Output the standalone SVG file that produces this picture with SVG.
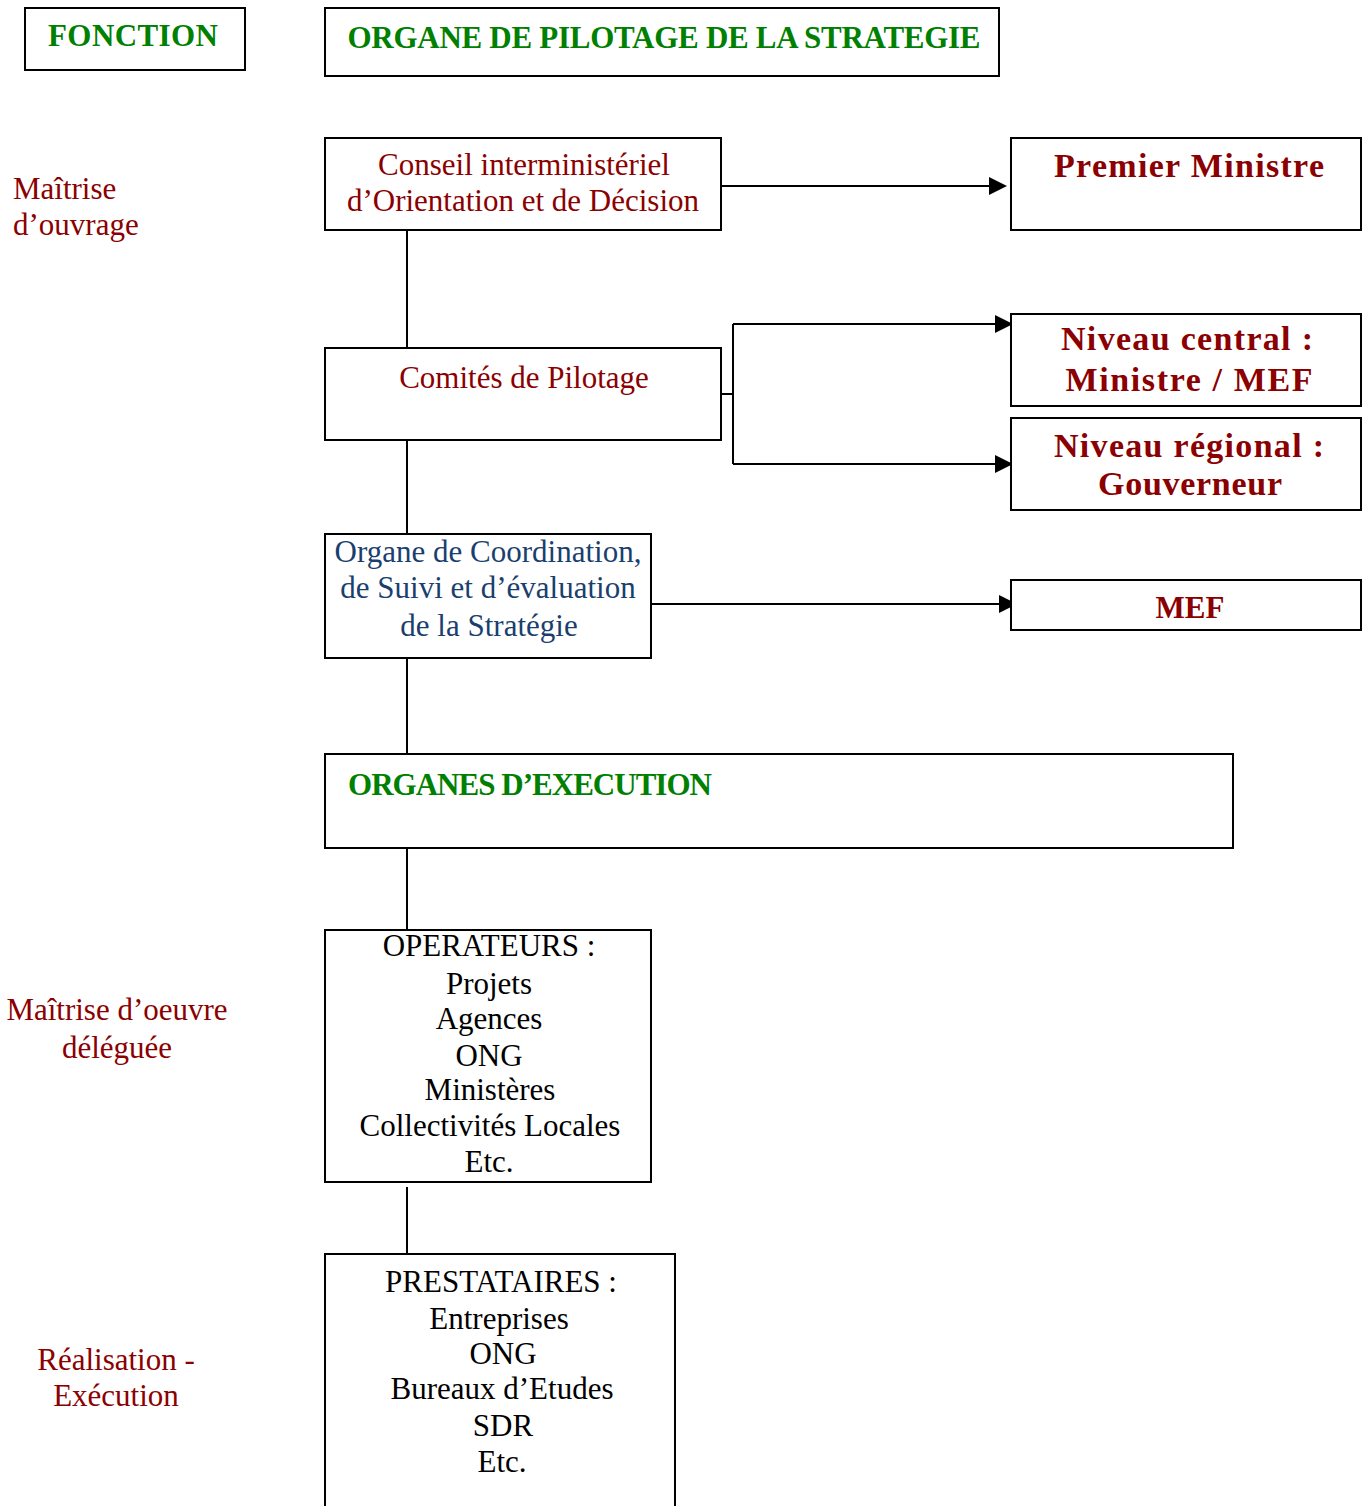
<svg xmlns="http://www.w3.org/2000/svg" width="1364" height="1506" viewBox="0 0 1364 1506">
<style>
.box{fill:#fff;stroke:#000;stroke-width:2}
.ln{fill:none;stroke:#000;stroke-width:2}
.t{font-family:"Liberation Serif","Times New Roman",serif;font-size:31px;text-anchor:middle}
.b{font-family:"Liberation Serif","Times New Roman",serif;font-size:31px;font-weight:bold;text-anchor:middle}
.bb{font-size:34px}
.red{fill:#8B0000}
.grn{fill:#008000}
.blu{fill:#1A3F6F}
.blk{fill:#000}
</style>
<defs>
<marker id="ah" markerWidth="18" markerHeight="18" refX="16" refY="9" orient="auto" markerUnits="userSpaceOnUse">
<path d="M0,0 L18,9 L0,18 Z" fill="#000"/>
</marker>
</defs>
<rect width="1364" height="1506" fill="#fff"/>

<g id="labels">
<text class="t red" x="13" y="199" style="text-anchor:start">Maîtrise</text>
<text class="t red" x="13" y="235" style="text-anchor:start">d’ouvrage</text>
<text class="t red" x="117" y="1020">Maîtrise d’oeuvre</text>
<text class="t red" x="117" y="1058">déléguée</text>
<text class="t red" x="116" y="1370">Réalisation -</text>
<text class="t red" x="116" y="1406">Exécution</text>
</g>

<g id="connectors">
<line class="ln" x1="721" y1="186" x2="1005" y2="186" marker-end="url(#ah)"/>
<line class="ln" x1="407" y1="230" x2="407" y2="348"/>
<polyline class="ln" points="721,394 733,394"/>
<polyline class="ln" points="733,324 733,464"/>
<line class="ln" x1="733" y1="324" x2="1011" y2="324" marker-end="url(#ah)"/>
<line class="ln" x1="733" y1="464" x2="1011" y2="464" marker-end="url(#ah)"/>
<line class="ln" x1="407" y1="440" x2="407" y2="534"/>
<line class="ln" x1="651" y1="604" x2="1015" y2="604" marker-end="url(#ah)"/>
<line class="ln" x1="407" y1="658" x2="407" y2="754"/>
<line class="ln" x1="407" y1="845" x2="407" y2="930"/>
<line class="ln" x1="407" y1="1187" x2="407" y2="1254"/>
</g>

<g id="fonction">
<rect class="box" x="25" y="8" width="220" height="62"/>
<text class="b grn" x="133" y="46" textLength="170">FONCTION</text>
</g>

<g id="organe-pilotage">
<rect class="box" x="325" y="8" width="674" height="68"/>
<text class="b grn" x="664" y="48" textLength="633">ORGANE DE PILOTAGE DE LA STRATEGIE</text>
</g>

<g id="conseil">
<rect class="box" x="325" y="138" width="396" height="92"/>
<text class="t red" x="524" y="175">Conseil interministériel</text>
<text class="t red" x="523" y="211">d’Orientation et de Décision</text>
</g>

<g id="premier-ministre">
<rect class="box" x="1011" y="138" width="350" height="92"/>
<text class="b bb red" x="1189" y="177" textLength="270">Premier Ministre</text>
</g>

<g id="comites">
<rect class="box" x="325" y="348" width="396" height="92"/>
<text class="t red" x="524" y="388">Comités de Pilotage</text>
</g>

<g id="niveau-central">
<rect class="box" x="1011" y="314" width="350" height="92"/>
<text class="b bb red" x="1187" y="350" textLength="252">Niveau central :</text>
<text class="b bb red" x="1189" y="391" textLength="247">Ministre / MEF</text>
</g>

<g id="niveau-regional">
<rect class="box" x="1011" y="418" width="350" height="92"/>
<text class="b bb red" x="1189" y="457" textLength="270">Niveau régional :</text>
<text class="b bb red" x="1190" y="495" textLength="184">Gouverneur</text>
</g>

<g id="organe-coordination">
<rect class="box" x="325" y="534" width="326" height="124"/>
<text class="t blu" x="488" y="562">Organe de Coordination,</text>
<text class="t blu" x="488" y="598">de Suivi et d’évaluation</text>
<text class="t blu" x="489" y="636">de la Stratégie</text>
</g>

<g id="mef">
<rect class="box" x="1011" y="580" width="350" height="50"/>
<text class="b red" x="1190" y="618">MEF</text>
</g>

<g id="organes-execution">
<rect class="box" x="325" y="754" width="908" height="94"/>
<text class="b grn" x="348" y="795" style="text-anchor:start" textLength="364">ORGANES D’EXECUTION</text>
</g>

<g id="operateurs">
<rect class="box" x="325" y="930" width="326" height="252"/>
<text class="t blk" x="489" y="956">OPERATEURS :</text>
<text class="t blk" x="489" y="994">Projets</text>
<text class="t blk" x="489" y="1029">Agences</text>
<text class="t blk" x="489" y="1066">ONG</text>
<text class="t blk" x="490" y="1100">Ministères</text>
<text class="t blk" x="490" y="1136">Collectivités Locales</text>
<text class="t blk" x="489" y="1172">Etc.</text>
</g>

<g id="prestataires">
<rect class="box" x="325" y="1254" width="350" height="260"/>
<text class="t blk" x="501" y="1292">PRESTATAIRES :</text>
<text class="t blk" x="499" y="1329">Entreprises</text>
<text class="t blk" x="503" y="1364">ONG</text>
<text class="t blk" x="502" y="1399">Bureaux d’Etudes</text>
<text class="t blk" x="503" y="1436">SDR</text>
<text class="t blk" x="502" y="1472">Etc.</text>
</g>
</svg>
